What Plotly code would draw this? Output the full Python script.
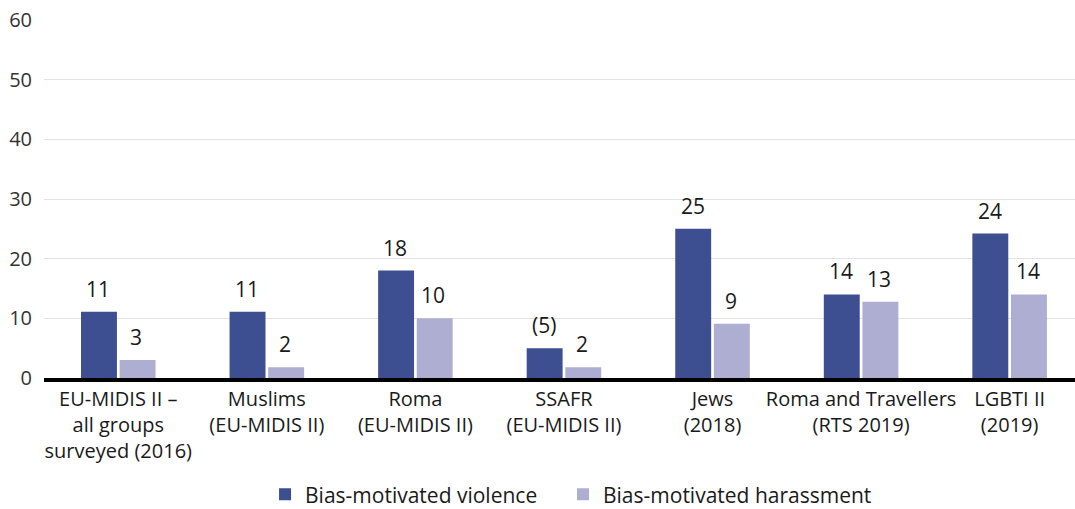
import plotly.graph_objects as go

categories = [
    "EU-MIDIS II –<br>all groups<br>surveyed (2016)",
    "Muslims<br>(EU-MIDIS II)",
    "Roma<br>(EU-MIDIS II)",
    "SSAFR<br>(EU-MIDIS II)",
    "Jews<br>(2018)",
    "Roma and Travellers<br>(RTS 2019)",
    "LGBTI II<br>(2019)",
]
violence = [11.1, 11.1, 18.0, 5.0, 25.0, 14.0, 24.2]
harassment = [3.0, 1.8, 10.0, 1.8, 9.1, 12.8, 14.0]
violence_labels = ["11", "11", "18", "(5)", "25", "14", "24"]
harassment_labels = ["3", "2", "10", "2", "9", "13", "14"]
y_ticks = [0, 10, 20, 30, 40, 50, 60]

DARK = "#3d4f91"
LIGHT = "#aeaed3"
FONT = "Open Sans"

fig = go.Figure()
fig.add_trace(go.Bar(name="Bias-motivated violence", x=categories, y=violence,
                     marker_color=DARK, marker_line_width=0, hoverinfo="skip",
                     legend="legend"))
fig.add_trace(go.Bar(name="Bias-motivated harassment", x=categories, y=harassment,
                     marker_color=LIGHT, marker_line_width=0, hoverinfo="skip",
                     legend="legend2"))

annotations = []
for cat, v, t in zip(categories, violence, violence_labels):
    annotations.append(dict(x=cat, y=v, text=t, xref="x", yref="y", showarrow=False,
                            xshift=-20, yshift=23, font=dict(size=21, color="#1a1a1a", family=FONT)))
for cat, v, t in zip(categories, harassment, harassment_labels):
    annotations.append(dict(x=cat, y=v, text=t, xref="x", yref="y", showarrow=False,
                            xshift=18, yshift=23, font=dict(size=21, color="#1a1a1a", family=FONT)))

legend_common = dict(orientation="h", xanchor="left", y=-0.326, yanchor="middle",
                     font=dict(size=21, family=FONT), itemwidth=30,
                     bgcolor="rgba(0,0,0,0)")

fig.update_layout(
    width=1075, height=509,
    margin=dict(l=44, r=0, t=20, b=131, autoexpand=False),
    paper_bgcolor="white", plot_bgcolor="white",
    barmode="group", bargap=0.48, bargroupgap=0.07,
    font=dict(family=FONT, size=20, color="#1a1a1a"),
    annotations=annotations,
    legend=dict(x=0.2144, **legend_common),
    legend2=dict(x=0.5034, **legend_common),
    showlegend=True,
)
fig.update_xaxes(range=[-0.5, 6.44], showline=True, linecolor="black", linewidth=4,
                 ticks="", tickfont=dict(size=20, family=FONT), fixedrange=True,
                 showgrid=False, zeroline=False, automargin=False)
fig.update_yaxes(range=[0, 60], tickvals=y_ticks, showgrid=True, gridcolor="#e3e3e3",
                 gridwidth=1, zeroline=False, showline=False, ticks="", automargin=False,
                 tickfont=dict(size=20, family=FONT, color="#333333"), ticklabelstandoff=11)

fig.write_html("out.html")
